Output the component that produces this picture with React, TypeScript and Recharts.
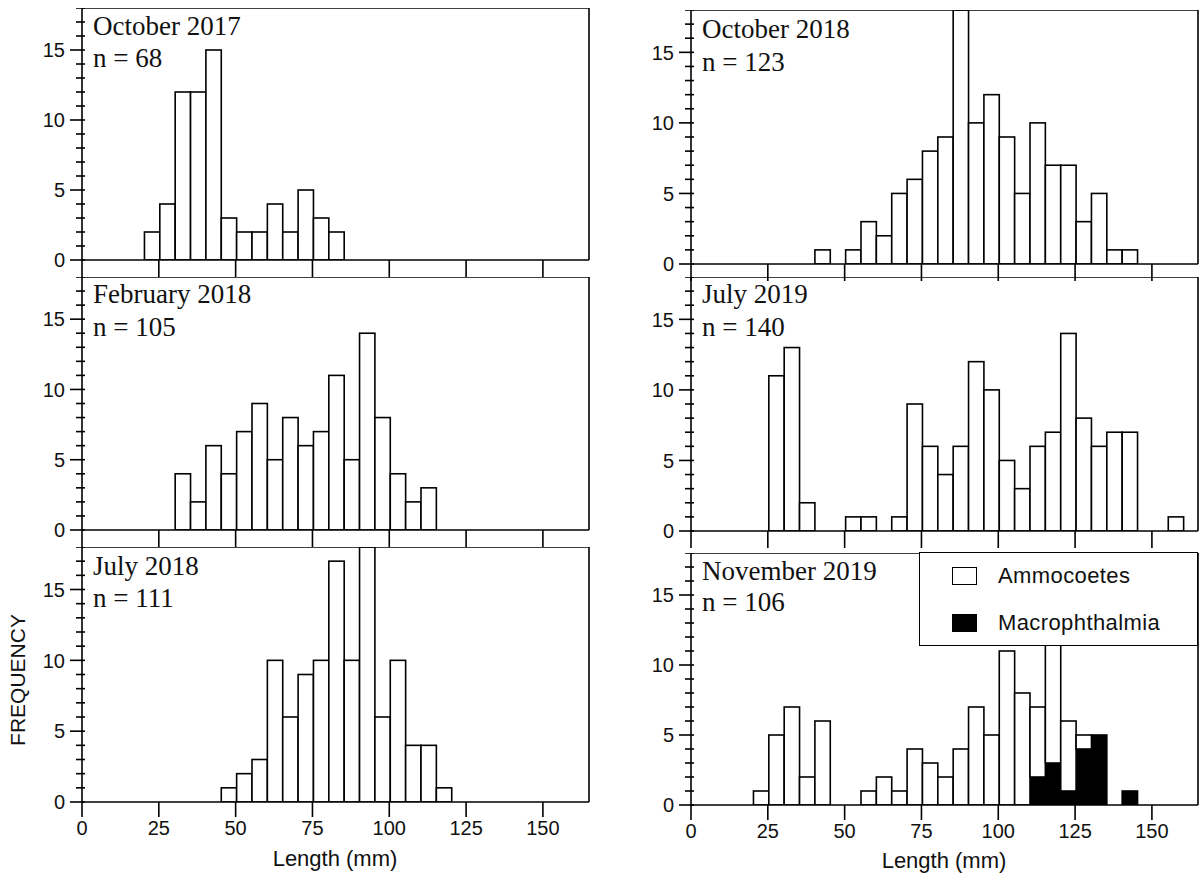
import React from "react";
import { BarChart, Bar, XAxis, YAxis, ReferenceLine, Legend } from "recharts";

// 5 mm length classes, 0 to 165 mm
const binStarts = [
  0, 5, 10, 15, 20, 25, 30, 35, 40, 45, 50, 55, 60, 65, 70, 75, 80,
  85, 90, 95, 100, 105, 110, 115, 120, 125, 130, 135, 140, 145, 150, 155, 160,
];
const xTicks = [0, 25, 50, 75, 100, 125, 150];
const yTicks = [0, 1, 2, 3, 4, 5, 6, 7, 8, 9, 10, 11, 12, 13, 14, 15, 16, 17, 18];
const yMajor = [0, 5, 10, 15];

// frequency per class (one value per binStarts entry)
const oct2017 = [0, 0, 0, 0, 2, 4, 12, 12, 15, 3, 2, 2, 4, 2, 5, 3, 2, 0, 0, 0, 0, 0, 0, 0, 0, 0, 0, 0, 0, 0, 0, 0, 0];
const feb2018 = [0, 0, 0, 0, 0, 0, 4, 2, 6, 4, 7, 9, 5, 8, 6, 7, 11, 5, 14, 8, 4, 2, 3, 0, 0, 0, 0, 0, 0, 0, 0, 0, 0];
const jul2018 = [0, 0, 0, 0, 0, 0, 0, 0, 0, 1, 2, 3, 10, 6, 9, 10, 17, 10, 18, 6, 10, 4, 4, 1, 0, 0, 0, 0, 0, 0, 0, 0, 0];
const oct2018 = [0, 0, 0, 0, 0, 0, 0, 0, 1, 0, 1, 3, 2, 5, 6, 8, 9, 18, 10, 12, 9, 5, 10, 7, 7, 3, 5, 1, 1, 0, 0, 0, 0];
const jul2019 = [0, 0, 0, 0, 0, 11, 13, 2, 0, 0, 1, 1, 0, 1, 9, 6, 4, 6, 12, 10, 5, 3, 6, 7, 14, 8, 6, 7, 7, 0, 0, 1, 0];
const nov2019Ammo = [0, 0, 0, 0, 1, 5, 7, 2, 6, 0, 0, 1, 2, 1, 4, 3, 2, 4, 7, 5, 11, 8, 5, 10, 5, 1, 0, 0, 0, 0, 0, 0, 0];
const nov2019Macro = [0, 0, 0, 0, 0, 0, 0, 0, 0, 0, 0, 0, 0, 0, 0, 0, 0, 0, 0, 0, 0, 0, 2, 3, 1, 4, 5, 0, 1, 0, 0, 0, 0];

const legendItems = [
  { name: "Ammocoetes", color: "#fff" },
  { name: "Macrophthalmia", color: "#000" },
];

const SANS = "'Liberation Sans', Arial, sans-serif";
const SERIF = "'Liberation Serif', 'Times New Roman', serif";
const LW = 1.6;

const CHART_W = 592;
const AXIS_W = 82;
const RIGHT_M = 3;
const PLOT_W = CHART_W - AXIS_W - RIGHT_M;
const BAND = PLOT_W / binStarts.length;

const makeRows = (counts: number[], macro?: number[]) =>
  binStarts.map((s, i) => ({
    bin: `${s}-${s + 5}`,
    start: s,
    count: counts[i],
    macro: macro ? macro[i] : 0,
  }));

// histogram bar: full class width so neighbouring bars share one edge
const HistBar = (props: any) => {
  const { x, y, height, fill } = props;
  if (!height || height <= 0) return null;
  return <rect x={x} y={y} width={BAND} height={height} fill={fill} stroke="#000" strokeWidth={LW} />;
};

const YTick = (props: any) => {
  const { x, y, payload } = props;
  const v = payload.value;
  const major = yMajor.includes(v);
  return (
    <g>
      <line x1={x - (major ? 12 : 6)} x2={x + 3} y1={y} y2={y} stroke="#000" strokeWidth={LW} />
      {major && (
        <text x={x - 17} y={y} dy="0.36em" textAnchor="end" fontFamily={SANS} fontSize={20} fill="#111">
          {v}
        </text>
      )}
    </g>
  );
};

const XTick = (props: any) => {
  const { x, y, payload } = props;
  return (
    <text x={x} y={y} dy="0.72em" textAnchor="middle" fontFamily={SANS} fontSize={20} fill="#111">
      {payload.value}
    </text>
  );
};

const LegendBox = () => (
  <div
    style={{
      width: 279,
      height: 94,
      boxSizing: "border-box",
      border: `${LW}px solid #000`,
      background: "#fff",
      position: "relative",
      fontFamily: SANS,
      fontSize: 22,
      color: "#111",
    }}
  >
    {legendItems.map((it, i) => (
      <div
        key={it.name}
        style={{ position: "absolute", left: 32, top: 13 + i * 47, height: 20, display: "flex", alignItems: "center" }}
      >
        <span
          style={{
            display: "inline-block",
            width: 25,
            height: 18,
            boxSizing: "border-box",
            border: `${LW}px solid #000`,
            background: it.color,
          }}
        />
        <span style={{ marginLeft: 21, letterSpacing: 0.4, whiteSpace: "nowrap" }}>{it.name}</span>
      </div>
    ))}
  </div>
);

interface PanelProps {
  counts: number[];
  macro?: number[];
  left: number;
  plotTop: number;
  plotH: number;
  bottom?: boolean;
  legend?: { left: number; top: number };
}

function Panel({ counts, macro, left, plotTop, plotH, bottom, legend }: PanelProps) {
  const axisH = bottom ? 70 : 17;
  return (
    <div style={{ position: "absolute", left, top: plotTop }}>
      <BarChart
        width={CHART_W}
        height={plotH + axisH}
        data={makeRows(counts, macro)}
        margin={{ top: 0, right: RIGHT_M, bottom: 0, left: 0 }}
        barCategoryGap={0}
        barGap={0}
      >
        <XAxis xAxisId="bins" dataKey="bin" hide height={0} />
        <XAxis
          xAxisId="num"
          type="number"
          dataKey="start"
          domain={[0, 165]}
          ticks={xTicks}
          interval={0}
          allowDataOverflow
          height={axisH}
          tickSize={bottom ? 15 : 17}
          tickMargin={4}
          axisLine={{ stroke: "#000", strokeWidth: LW }}
          tickLine={{ stroke: "#000", strokeWidth: LW }}
          tick={bottom ? <XTick /> : () => null}
        />
        <YAxis
          domain={[0, 18]}
          ticks={yTicks}
          interval={0}
          allowDataOverflow
          width={AXIS_W}
          tickSize={0}
          tickMargin={0}
          tickLine={false}
          axisLine={{ stroke: "#000", strokeWidth: LW }}
          tick={<YTick />}
        />
        <ReferenceLine xAxisId="num" y={18} stroke="#000" strokeWidth={LW} />
        <ReferenceLine xAxisId="num" x={165} stroke="#000" strokeWidth={LW} />
        {macro && (
          <Bar
            xAxisId="bins"
            dataKey="macro"
            name="Macrophthalmia"
            stackId="a"
            barSize={BAND}
            fill="#000"
            shape={<HistBar />}
            isAnimationActive={false}
          />
        )}
        <Bar
          xAxisId="bins"
          dataKey="count"
          name="Ammocoetes"
          stackId="a"
          barSize={BAND}
          fill="#fff"
          shape={<HistBar />}
          isAnimationActive={false}
        />
        {legend && (
          <Legend
            layout="horizontal"
            verticalAlign="middle"
            align="center"
            wrapperStyle={{ left: legend.left, top: legend.top, width: 279 }}
            content={<LegendBox />}
          />
        )}
      </BarChart>
    </div>
  );
}

const titles = [
  { x: 93, y: 35, text: "October 2017" },
  { x: 93, y: 67, text: "n = 68" },
  { x: 93, y: 303, text: "February 2018" },
  { x: 93, y: 336, text: "n = 105" },
  { x: 93, y: 575, text: "July 2018" },
  { x: 93, y: 607, text: "n = 111" },
  { x: 702, y: 38, text: "October 2018" },
  { x: 702, y: 71, text: "n = 123" },
  { x: 702, y: 303, text: "July 2019" },
  { x: 702, y: 336, text: "n = 140" },
  { x: 702, y: 580, text: "November 2019" },
  { x: 702, y: 611, text: "n = 106" },
];

export default function App() {
  return (
    <div
      style={{
        position: "absolute",
        left: 0,
        top: 0,
        width: 1202,
        height: 875,
        overflow: "hidden",
        background: "#fff",
        fontFamily: SANS,
      }}
    >
      <Panel counts={oct2017} left={0} plotTop={8} plotH={252} />
      <Panel counts={feb2018} left={0} plotTop={277} plotH={253} />
      <Panel counts={jul2018} left={0} plotTop={547} plotH={255} bottom />
      <Panel counts={oct2018} left={609} plotTop={10} plotH={254} />
      <Panel counts={jul2019} left={609} plotTop={277} plotH={254} />
      <Panel
        counts={nov2019Ammo}
        macro={nov2019Macro}
        left={609}
        plotTop={553}
        plotH={252}
        bottom
        legend={{ left: 310, top: -1 }}
      />
      <svg
        width={1202}
        height={875}
        style={{ position: "absolute", left: 0, top: 0, pointerEvents: "none" }}
      >
        {titles.map((t) => (
          <text key={t.text} x={t.x} y={t.y} fontFamily={SERIF} fontSize={27} fill="#111">
            {t.text}
          </text>
        ))}
        <text x={335} y={866} textAnchor="middle" fontFamily={SANS} fontSize={22} fill="#111">
          Length (mm)
        </text>
        <text x={944} y={868} textAnchor="middle" fontFamily={SANS} fontSize={22} fill="#111">
          Length (mm)
        </text>
        <text
          x={25}
          y={680}
          transform="rotate(-90 25 680)"
          textAnchor="middle"
          fontFamily={SANS}
          fontSize={21}
          fill="#111"
        >
          FREQUENCY
        </text>
      </svg>
    </div>
  );
}
